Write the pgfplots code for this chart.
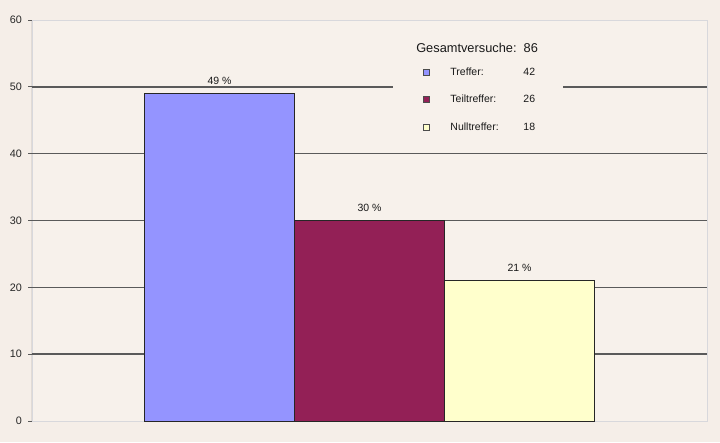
\documentclass[border=0pt]{standalone}
\usepackage{fontspec}
\setmainfont{Liberation Sans}
\usepackage{pgfplots}
\pgfplotsset{compat=1.18}

\definecolor{pagebg}{HTML}{F5EEE8}
\definecolor{plotbg}{HTML}{F7F1EB}
\definecolor{treffer}{HTML}{9494FF}
\definecolor{teil}{HTML}{932056}
\definecolor{nullc}{HTML}{FFFFCC}
\definecolor{gridc}{HTML}{5A5A5A}
\definecolor{framec}{HTML}{D8D8DC}

\begin{document}
\begin{tikzpicture}[x=1pt,y=1pt]
\fill[pagebg] (0,0) rectangle (720,442);
\useasboundingbox (0,0) rectangle (720,442);
\begin{axis}[
    at={(32pt,21pt)}, anchor=south west,
    scale only axis, width=675pt, height=401pt,
    xmin=-1.25, xmax=3.25, ymin=0, ymax=60,
    xtick=\empty,
    ytick={0,10,...,60},
    ytick pos=left, tick align=outside, major tick length=3.5pt,
    tick style={draw=black!65, line width=0.9pt},
    yticklabel style={font=\fontsize{10.8}{12}\selectfont, text=black!85, xshift=-3pt},
    /pgf/number format/assume math mode=true,
    axis background/.style={fill=plotbg},
    axis line style={draw=framec, line width=0.9pt},
    extra y ticks={10,20,30,40,50},
    extra y tick labels={},
    extra y tick style={ymajorgrids=true, major tick length=0pt},
    grid style={draw=gridc, line width=1.4pt},
    ybar, bar width=1,
    nodes near coords={\pgfmathprintnumber{\pgfplotspointmeta} \%},
    every node near coord/.append style={font=\fontsize{10.5}{12}\selectfont, text=black!90, yshift=5.5pt},
    legend image code/.code={\draw[#1, draw=black!70, line width=0.6pt] (0pt,-3pt) rectangle (6pt,3pt);},
    legend cell align=left,
    legend style={at={(rel axis cs:0.5795,0.887)}, anchor=north west, draw=none, fill=none,
        inner sep=0pt, row sep=14.6pt, font=\fontsize{10.5}{12}\selectfont, text=black!90,
        /tikz/every odd column/.append style={column sep=18.5pt}},
]
\addplot[fill=treffer, draw=black!85, line width=1pt, bar shift=0pt] coordinates {(0,49)};
\addplot[fill=teil, draw=black!85, line width=1pt, bar shift=0pt] coordinates {(1,30)};
\addplot[fill=nullc, draw=black!85, line width=1pt, bar shift=0pt] coordinates {(2,21)};
\legend{\makebox[73pt][l]{Treffer:}42, \makebox[73pt][l]{Teiltreffer:}26, \makebox[73pt][l]{Nulltreffer:}18}
% patch that hides the 50 grid line behind the legend
\fill[plotbg] (rel axis cs:0.5348,0.70) rectangle (rel axis cs:0.7867,0.975);
\draw[black!65, line width=1pt] (rel axis cs:0,0) -- (rel axis cs:0,1);
\node[anchor=west, inner sep=0pt, font=\fontsize{12.8}{14}\selectfont, text=black!90]
    at (rel axis cs:0.569,0.930) {Gesamtversuche:\ \ 86};
\end{axis}
\end{tikzpicture}
\end{document}
